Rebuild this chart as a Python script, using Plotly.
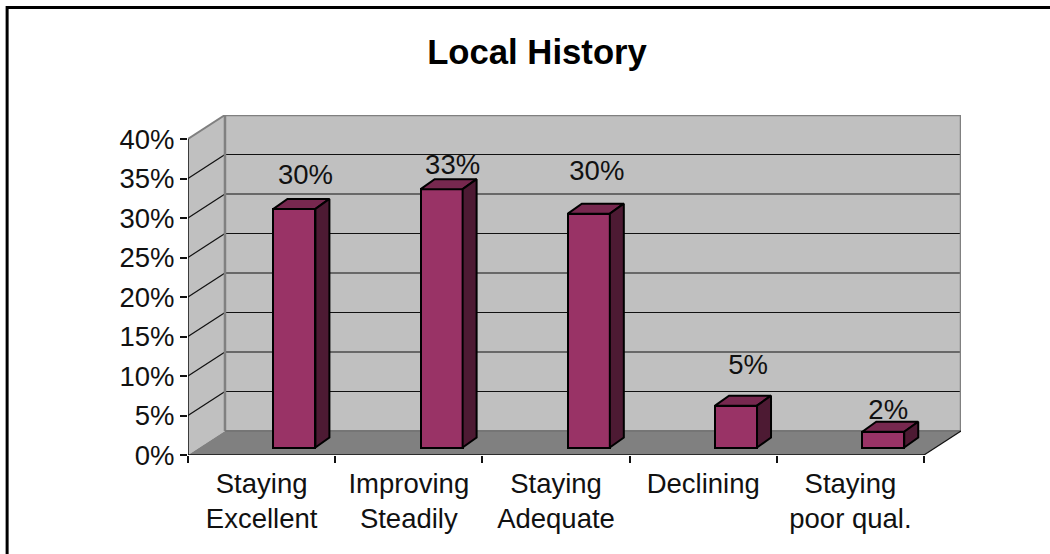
import plotly.graph_objects as go

categories = ["Staying<br>Excellent", "Improving<br>Steadily", "Staying<br>Adequate", "Declining", "Staying<br>poor qual."]
values = [30.2, 32.7, 29.6, 5.3, 2.0]
y_ticks = [0, 5, 10, 15, 20, 25, 30, 35, 40]

# --- layout constants (pixels of the page) ---
W, H = 1050, 554
X0, Y0 = 187.5, 455.5          # front-left corner of the floor
X_UNIT = 147.3                 # px per category
Y_UNIT = 7.9                   # px per percentage point
WALL_DX, WALL_DY = 37.0, 24.0  # depth of the box
BAR_DX, BAR_DY = 14.0, 10.0    # depth of a bar
BAR_W = 42.0
BAR_FRONT_GAP = 7.5            # bar base above the front floor edge
BAR_CENTER = 0.723             # centre of bar's front face within its category
LABEL_DX = [11, 11, 8, 12, 5]
LABEL_LIFT = [32, 22, 41, 39, 20]

n = len(categories)
dx = WALL_DX / X_UNIT
dy = WALL_DY / Y_UNIT
x_max = n + dx
y_max = max(y_ticks) + dy
R = X0 + x_max * X_UNIT
T = Y0 - y_max * Y_UNIT

FONT = "Liberation Sans, Arial, sans-serif"
TEXT_SIZE = 27.5
GREY, WALL, FLOOR = "#808080", "#C0C0C0", "#808080"
FRONT, TOP, SIDE = "#993366", "#77284F", "#4D1A33"


def poly(points, fill, color=None, width=0, layer="below"):
    path = "M " + " L ".join(f"{a},{b}" for a, b in points) + " Z"
    return dict(type="path", path=path, fillcolor=fill, layer=layer,
                xref="x", yref="y", line=dict(color=color or fill, width=width))


def seg(x1, y1, x2, y2, color="#111111", width=1.2):
    return dict(type="line", x0=x1, y0=y1, x1=x2, y1=y2, xref="x", yref="y",
                layer="below", line=dict(color=color, width=width))


top = max(y_ticks)
shapes = [
    poly([(0, 0), (dx, dy), (dx, top + dy), (0, top)], WALL),
    poly([(dx, dy), (n + dx, dy), (n + dx, top + dy), (dx, top + dy)], WALL),
    poly([(0, 0), (n, 0), (n + dx, dy), (dx, dy)], FLOOR),
]
for t in y_ticks[1:-1]:
    shapes.append(seg(0, t, dx, t + dy))
    shapes.append(seg(dx, t + dy, n + dx, t + dy))
shapes += [
    seg(dx, dy, dx, top + dy, GREY, 2.5),
    seg(dx, top + dy, n + dx, top + dy, GREY, 2.5),
    seg(n + dx, dy, n + dx, top + dy, GREY, 2.5),
    seg(dx, dy, n + dx, dy, "#757575", 2),
    seg(0, top, dx, top + dy, GREY, 2),
    seg(0, 0, 0, top, "#111111", 1.5),
    seg(0, 0, n, 0, "#111111", 1.5),
    seg(n, 0, n + dx, dy, "#111111", 1.2),
]


def px(x):
    return (x - X0) / (R - X0)


def py(y):
    return (Y0 - y) / (Y0 - T)


# outer frame, running off the right and bottom of the picture
shapes.append(dict(type="path", xref="paper", yref="paper",
                   path=f"M {px(W + 10)},{py(8)} L {px(6.5)},{py(8)} L {px(6.5)},{py(H + 10)}",
                   line=dict(color="#000000", width=3)))

fig = go.Figure()

base = BAR_FRONT_GAP / Y_UNIT
centers = [i + BAR_CENTER for i in range(n)]
fig.add_trace(go.Bar(x=centers, y=values, base=[base] * n, width=BAR_W / X_UNIT,
                     marker=dict(color=FRONT, line=dict(color="#000000", width=2)),
                     hoverinfo="skip", showlegend=False))

half = BAR_W / X_UNIT / 2
bx, by = BAR_DX / X_UNIT, BAR_DY / Y_UNIT
for c, v in zip(centers, values):
    b0, t0 = base, base + v
    fig.add_trace(go.Scatter(
        x=[c - half, c + half, c + half + bx, c - half + bx, c - half],
        y=[t0, t0, t0 + by, t0 + by, t0],
        mode="lines", fill="toself", fillcolor=TOP,
        line=dict(color="#000000", width=2), hoverinfo="skip", showlegend=False))
    fig.add_trace(go.Scatter(
        x=[c + half, c + half + bx, c + half + bx, c + half, c + half],
        y=[b0, b0 + by, t0 + by, t0, b0],
        mode="lines", fill="toself", fillcolor=SIDE,
        line=dict(color="#000000", width=2), hoverinfo="skip", showlegend=False))

fig.add_trace(go.Scatter(
    x=[c + d / X_UNIT for c, d in zip(centers, LABEL_DX)],
    y=[base + v + l / Y_UNIT for v, l in zip(values, LABEL_LIFT)],
    mode="text", text=[f"{round(v)}%" for v in values], textposition="middle center",
    textfont=dict(family=FONT, size=TEXT_SIZE, color="#111111"),
    hoverinfo="skip", showlegend=False))

fig.update_layout(
    width=W, height=H, autosize=False,
    margin=dict(l=X0, r=W - R, t=T, b=H - Y0, pad=0),
    paper_bgcolor="#FFFFFF", plot_bgcolor="#FFFFFF",
    showlegend=False, shapes=shapes,
    title=dict(text="<b>Local History</b>", x=537 / W, xref="container", xanchor="center",
               y=1 - 52 / H, yref="container", yanchor="middle",
               font=dict(family=FONT, size=34.7, color="#000000")),
    font=dict(family=FONT, size=TEXT_SIZE, color="#111111"),
    xaxis=dict(range=[0, x_max], tickmode="array",
               tickvals=[i + 0.5 for i in range(n)], ticktext=categories,
               ticks="", showgrid=False, zeroline=False, showline=False,
               ticklabelstandoff=9,
               minor=dict(tickmode="array", tickvals=list(range(n + 1)), ticks="outside",
                          ticklen=7, tickwidth=1.5, tickcolor="#111111", showgrid=False),
               tickfont=dict(family=FONT, size=TEXT_SIZE, color="#111111")),
    yaxis=dict(range=[0, y_max], tickmode="array", tickvals=y_ticks,
               ticktext=[f"{t}%" for t in y_ticks], ticks="outside", ticklen=7,
               tickwidth=1.5, tickcolor="#111111", showgrid=False, zeroline=False,
               showline=False, tickfont=dict(family=FONT, size=TEXT_SIZE, color="#111111")),
    bargap=0,
)

fig.write_html("out.html", post_script="document.body.style.margin='0';document.documentElement.style.overflow='hidden';",
               config={"displayModeBar": False})
